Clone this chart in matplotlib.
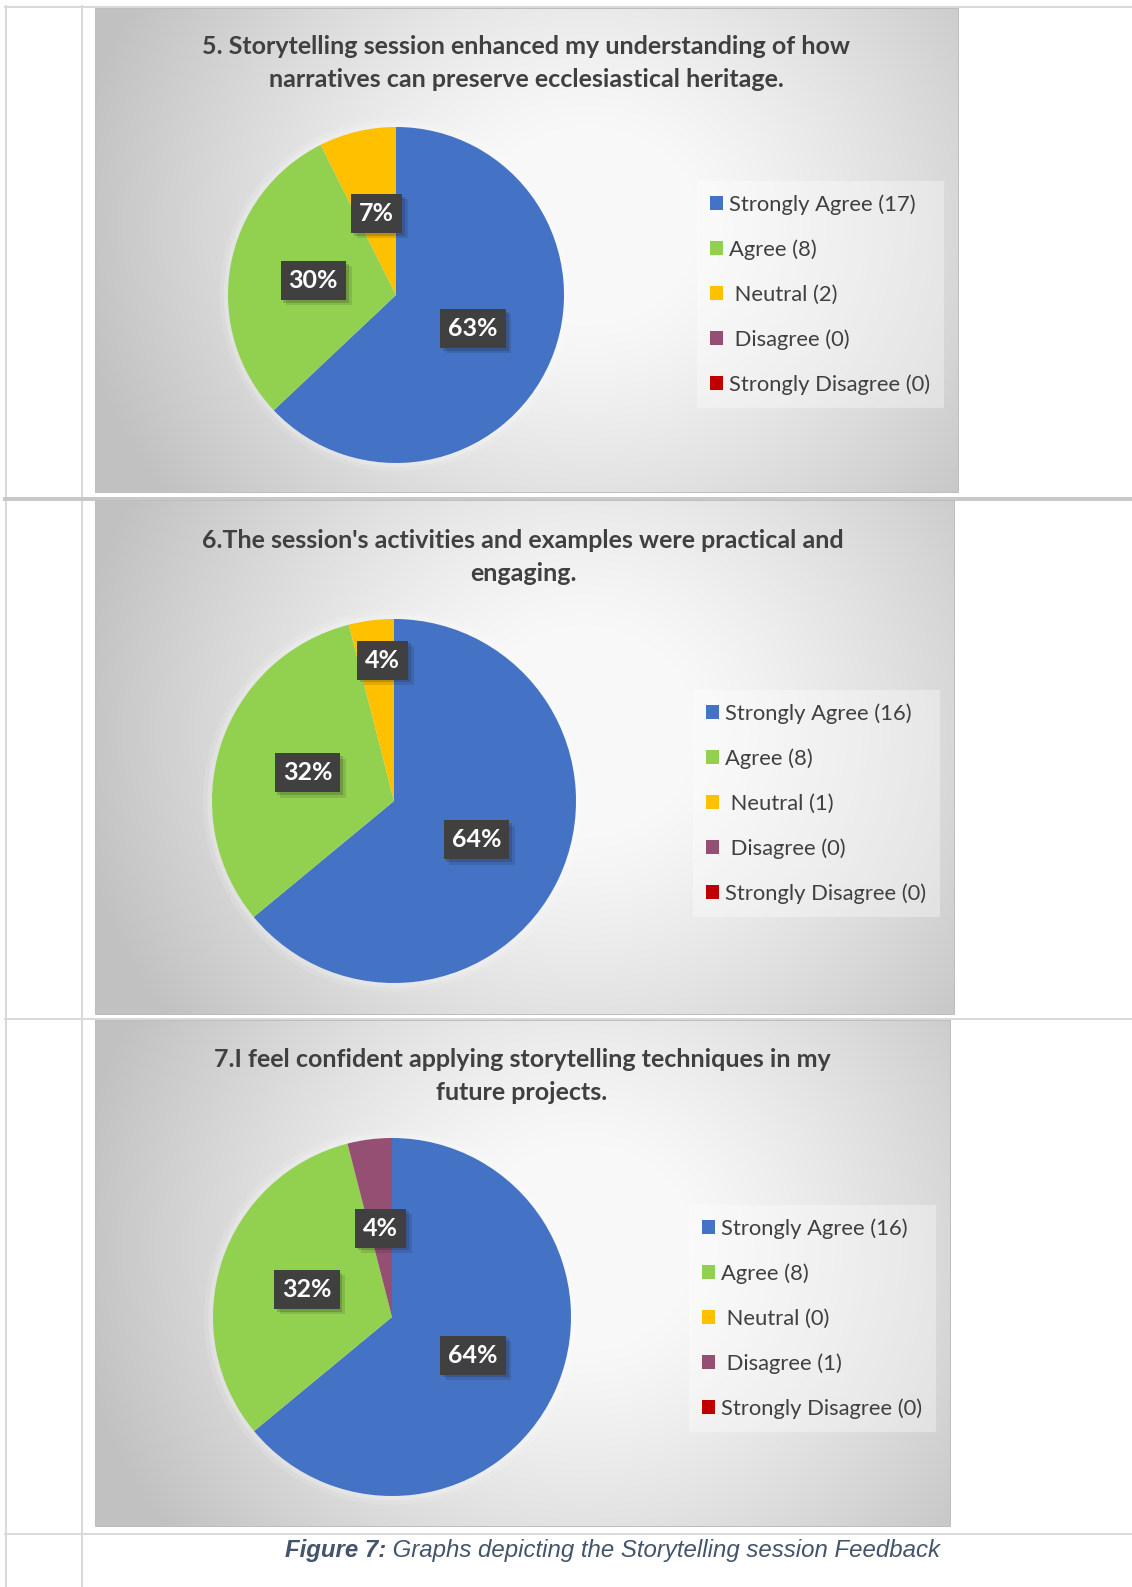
import numpy as np
import matplotlib.pyplot as plt
import matplotlib.patheffects as pe
from matplotlib.patches import Rectangle, Circle

plt.rcParams['font.family'] = ['Lato', 'DejaVu Sans']

#---------- data ----------
categories = ['Strongly Agree', 'Agree', 'Neutral', 'Disagree', 'Strongly Disagree']
label_lead = ['', '', ' ', ' ', '']   # the source legend has a stray space before these two
q5_counts = [17, 8, 2, 0, 0]
q6_counts = [16, 8, 1, 0, 0]
q7_counts = [16, 8, 0, 1, 0]
titles = ['5. Storytelling session enhanced my understanding of how\nnarratives can preserve ecclesiastical heritage.',
          "6.The session's activities and examples were practical and\nengaging.",
          '7.I feel confident applying storytelling techniques in my\nfuture projects.']
caption_bold = 'Figure 7:'
caption_rest = ' Graphs depicting the Storytelling session Feedback'

colors = ['#4472C4', '#92D050', '#FFC000', '#954F72', '#C00000']

#---------- layout (pixels of the 1132x1587 page) ----------
W, H = 1132, 1587
panels = [(95, 8, 958, 492), (95, 500, 954, 1014), (95, 1020, 950, 1526)]
pie_geom = [(396, 295, 168), (394, 801, 182), (392, 1317, 179)]   # centre x, centre y, radius
title_pos = [(526, 63), (523, 557), (522, 1076)]
legend_pos = [(697, 181), (693, 690), (689, 1205)]
small_label_push = [1.0, 1.56, 1.0]   # excel pushed the tiny-slice label upward in chart 6

fig = plt.figure(figsize=(W / 100, H / 100), dpi=100)
bg = fig.add_axes([0, 0, 1, 1])
bg.axis('off')

px = 0.72  # one pixel in points

# table grid
grid = '#d9d9d9'
bg.plot([5, W], [6.5, 6.5], color=grid, lw=2 * px, zorder=0)
bg.plot([6, 6], [6, H], color=grid, lw=2 * px, zorder=0)
bg.plot([82, 82], [6, H], color=grid, lw=2 * px, zorder=0)
bg.plot([5, W], [499, 499], color='#c8c8c8', lw=4 * px, zorder=0)
bg.plot([5, W], [1019, 1019], color=grid, lw=2 * px, zorder=0)
bg.plot([5, W], [1534, 1534], color=grid, lw=2 * px, zorder=0)

# panel backgrounds: soft radial grey -> white
ny, nx = 160, 260
xx, yy = np.meshgrid(np.linspace(0, 1, nx), np.linspace(0, 1, ny))
d = np.sqrt(((xx - 0.57) / 0.6) ** 2 + ((yy - 0.45) / 0.95) ** 2)
t = np.clip((d - 0.2) / 0.8, 0, 1)
v = 0.975 - (0.975 - 0.76) * t ** 1.2
grad = np.dstack([v, v, v])
for (x0, y0, x1, y1) in panels:
    bg.imshow(grad, extent=(x0, x1, y1, y0), interpolation='bilinear', aspect='auto', zorder=1)
    bg.add_patch(Rectangle((x0, y0), x1 - x0, y1 - y0, fill=False, ec='#bdbdbd', lw=1 * px, zorder=2))

bg.set_xlim(0, W)
bg.set_ylim(H, 0)

# titles
for (tx, ty), title in zip(title_pos, titles):
    bg.text(tx, ty, title, ha='center', va='center', fontsize=18, fontweight='bold',
            color='#404040', linespacing=1.5, zorder=3)

#---------- pies ----------
all_counts = [q5_counts, q6_counts, q7_counts]
for counts, (cx, cy, r), (lx, ly), push in zip(all_counts, pie_geom, legend_pos, small_label_push):
    ax = fig.add_axes([(cx - r) / W, (H - cy - r) / H, 2 * r / W, 2 * r / H])
    # faint white glow round the pie
    for rr, a in [(1.05, 0.12), (1.025, 0.2)]:
        ax.add_patch(Circle((0, 0), rr, color='white', alpha=a, lw=0))
    wedges, _, autotexts = ax.pie(counts, colors=colors, startangle=90, counterclock=False,
                                  autopct=lambda p: f'{p:.0f}%' if p > 0 else '',
                                  pctdistance=0.5, wedgeprops=dict(linewidth=0),
                                  textprops=dict(color='white', fontsize=18, fontweight='bold'))
    ax.set_xlim(-1.1, 1.1)
    ax.set_ylim(-1.1, 1.1)
    ax.set_position([(cx - 1.1 * r) / W, (H - cy - 1.1 * r) / H, 2.2 * r / W, 2.2 * r / H])
    total = sum(counts)
    for n, at in zip(counts, autotexts):
        if not at.get_text():
            continue
        if n / total < 0.05:
            x, y = at.get_position()
            at.set_position((x, y * push))
        at.set_bbox(dict(boxstyle='square,pad=0.32', fc='#404040', lw=0))
        at.get_bbox_patch().set_path_effects([
            pe.SimplePatchShadow(offset=(4, -4), alpha=0.12),
            pe.SimplePatchShadow(offset=(2, -2), alpha=0.18),
            pe.Normal()])

    labels = [f'{lead}{c} ({n})' for lead, c, n in zip(label_lead, categories, counts)]
    leg = fig.legend(wedges, labels, loc='upper left', bbox_to_anchor=(lx / W, 1 - ly / H),
                     bbox_transform=fig.transFigure, borderaxespad=0, fontsize=15.8,
                     handlelength=0.58, handleheight=0.58, handletextpad=0.3,
                     labelspacing=1.12, borderpad=0.6, frameon=True, fancybox=False,
                     facecolor='white', framealpha=0.35, edgecolor='none')
    for txt in leg.get_texts():
        txt.set_color('#404040')

#---------- caption ----------
renderer = fig.canvas.get_renderer()
cap_y = 1 - 1551 / H
t1 = fig.text(285 / W, cap_y, caption_bold, family='Liberation Sans', style='italic',
              fontweight='bold', fontsize=17.3, color='#44546A', va='center')
bb = t1.get_window_extent(renderer)
fig.text(bb.x1 / W, cap_y, caption_rest, family='Liberation Sans', style='italic',
         fontsize=17.3, color='#44546A', va='center')

fig.savefig('out.png', dpi=100)
